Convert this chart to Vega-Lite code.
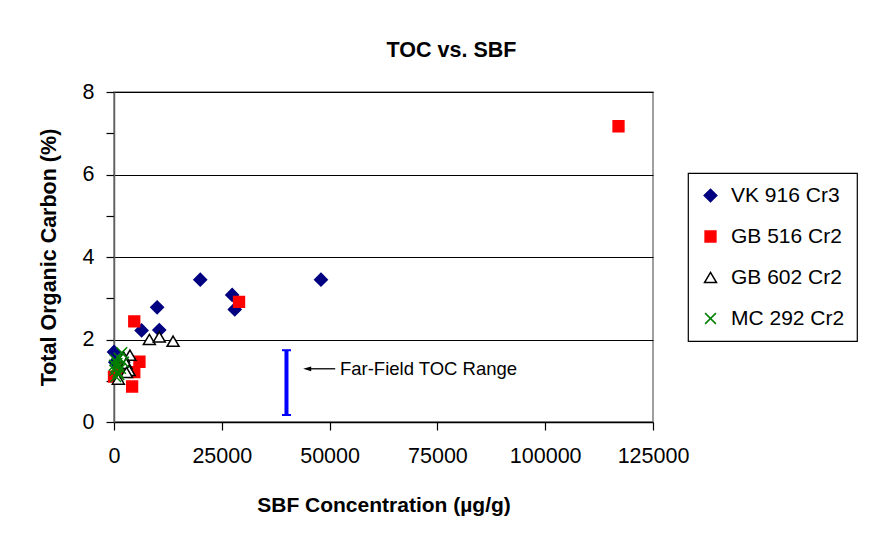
{
  "$schema": "https://vega.github.io/schema/vega-lite/v6.json",
  "width": 539,
  "height": 330,
  "autosize": {"type": "none"},
  "padding": {"left": 114, "top": 92, "right": 238, "bottom": 125},
  "background": "white",
  "title": {"text": "TOC vs. SBF", "fontSize": 21.5, "fontWeight": "bold", "font": "Liberation Sans", "color": "black", "anchor": "middle", "dx": 68, "baseline": "alphabetic", "offset": 3},
  "layer": [
    {
      "data": {"values": [
        {"series": "VK 916 Cr3", "sbf": 48000, "toc": 3.45},
        {"series": "VK 916 Cr3", "sbf": 20000, "toc": 3.45},
        {"series": "VK 916 Cr3", "sbf": 27400, "toc": 3.08},
        {"series": "VK 916 Cr3", "sbf": 28000, "toc": 2.73},
        {"series": "VK 916 Cr3", "sbf": 10000, "toc": 2.78},
        {"series": "VK 916 Cr3", "sbf": 6400, "toc": 2.22},
        {"series": "VK 916 Cr3", "sbf": 10500, "toc": 2.23},
        {"series": "VK 916 Cr3", "sbf": 0, "toc": 1.7},
        {"series": "VK 916 Cr3", "sbf": 300, "toc": 1.45},
        {"series": "GB 516 Cr2", "sbf": 117000, "toc": 7.17},
        {"series": "GB 516 Cr2", "sbf": 29000, "toc": 2.91},
        {"series": "GB 516 Cr2", "sbf": 4700, "toc": 2.44},
        {"series": "GB 516 Cr2", "sbf": 5900, "toc": 1.46},
        {"series": "GB 516 Cr2", "sbf": 4700, "toc": 1.21},
        {"series": "GB 516 Cr2", "sbf": 4200, "toc": 0.86},
        {"series": "GB 516 Cr2", "sbf": 0, "toc": 1.1},
        {"series": "GB 516 Cr2", "sbf": 1500, "toc": 1.3},
        {"series": "GB 602 Cr2", "sbf": 8200, "toc": 2.0},
        {"series": "GB 602 Cr2", "sbf": 10500, "toc": 2.06},
        {"series": "GB 602 Cr2", "sbf": 13700, "toc": 1.96},
        {"series": "GB 602 Cr2", "sbf": 3700, "toc": 1.62},
        {"series": "GB 602 Cr2", "sbf": 2200, "toc": 1.58},
        {"series": "GB 602 Cr2", "sbf": 2800, "toc": 1.42},
        {"series": "GB 602 Cr2", "sbf": 3500, "toc": 1.25},
        {"series": "GB 602 Cr2", "sbf": 1000, "toc": 1.04},
        {"series": "GB 602 Cr2", "sbf": 2900, "toc": 1.2},
        {"series": "MC 292 Cr2", "sbf": 1800, "toc": 1.68},
        {"series": "MC 292 Cr2", "sbf": 1200, "toc": 1.55},
        {"series": "MC 292 Cr2", "sbf": 300, "toc": 1.5},
        {"series": "MC 292 Cr2", "sbf": 600, "toc": 1.35},
        {"series": "MC 292 Cr2", "sbf": 200, "toc": 1.25},
        {"series": "MC 292 Cr2", "sbf": 900, "toc": 1.2},
        {"series": "MC 292 Cr2", "sbf": 1500, "toc": 1.3},
        {"series": "MC 292 Cr2", "sbf": 400, "toc": 1.1},
        {"series": "MC 292 Cr2", "sbf": 2200, "toc": 1.45},
        {"series": "MC 292 Cr2", "sbf": 700, "toc": 1.42},
        {"series": "MC 292 Cr2", "sbf": 100, "toc": 1.38},
        {"series": "MC 292 Cr2", "sbf": 1100, "toc": 1.15}
      ]},
      "mark": {"type": "point", "filled": true, "opacity": 1, "strokeWidth": 1.5, "size": 144, "clip": false},
      "encoding": {
        "x": {
          "field": "sbf", "type": "quantitative",
          "scale": {"domain": [0, 125000], "nice": false, "zero": false},
          "axis": {
            "title": "SBF Concentration (µg/g)",
            "values": [0, 25000, 50000, 75000, 100000, 125000],
            "format": "d",
            "grid": false,
            "domainColor": "black",
            "domainWidth": 1.5,
            "tickSize": 8,
            "tickWidth": 1.2,
            "labelFontSize": 21.5,
            "labelPadding": 15,
            "labelFlush": false,
            "labelOverlap": false,
            "titleFontSize": 21,
            "titleFontWeight": "bold",
            "titlePadding": 28
          }
        },
        "y": {
          "field": "toc", "type": "quantitative",
          "scale": {"domain": [0, 8], "nice": false, "zero": false},
          "axis": {
            "title": "Total Organic Carbon (%)",
            "values": [0, 1, 2, 3, 4, 5, 6, 7, 8],
            "labelExpr": "datum.value % 2 === 0 ? datum.label : ''",
            "grid": true,
            "gridColor": "black",
            "gridWidth": 1.2,
            "gridOpacity": {"condition": {"test": "datum.value % 2 === 0 && datum.value > 0", "value": 1}, "value": 0},
            "domainColor": "#606060",
            "domainWidth": 1.5,
            "tickSize": 8,
            "tickWidth": 1.2,
            "labelFontSize": 21.5,
            "labelPadding": 12,
            "labelFlush": false,
            "titleFontSize": 21.5,
            "titleFontWeight": "bold",
            "titlePadding": 22
          }
        },
        "shape": {
          "field": "series", "type": "nominal",
          "scale": {"domain": ["VK 916 Cr3", "GB 516 Cr2", "GB 602 Cr2", "MC 292 Cr2"], "range": ["M0,-1.05L1.05,0L0,1.05L-1.05,0Z", "M-0.9,-0.9L0.9,-0.9L0.9,0.9L-0.9,0.9Z", "M0,-0.85L1,0.85L-1,0.85Z", "M-0.9,-0.9L0.9,0.9M-0.9,0.9L0.9,-0.9"]},
          "legend": {"title": null}
        },
        "fill": {
          "field": "series", "type": "nominal",
          "scale": {"domain": ["VK 916 Cr3", "GB 516 Cr2", "GB 602 Cr2", "MC 292 Cr2"], "range": ["#000080", "#FF0000", "#FFFFFF", "transparent"]},
          "legend": {"title": null}
        },
        "stroke": {
          "field": "series", "type": "nominal",
          "scale": {"domain": ["VK 916 Cr3", "GB 516 Cr2", "GB 602 Cr2", "MC 292 Cr2"], "range": ["#000080", "#FF0000", "#000000", "#008000"]},
          "legend": {"title": null}
        }
      }
    },
    {
      "data": {"values": [{"sbf": 40000, "lo": 0.17, "hi": 1.74}]},
      "mark": {"type": "rule", "color": "#0000FF", "strokeWidth": 4},
      "encoding": {
        "x": {"field": "sbf", "type": "quantitative"},
        "y": {"field": "lo", "type": "quantitative"},
        "y2": {"field": "hi"}
      }
    },
    {
      "data": {"values": [{"sbf": 40000, "toc": 0.17}, {"sbf": 40000, "toc": 1.74}]},
      "mark": {"type": "tick", "orient": "horizontal", "color": "#0000FF", "size": 9, "thickness": 2, "opacity": 1},
      "encoding": {
        "x": {"field": "sbf", "type": "quantitative"},
        "y": {"field": "toc", "type": "quantitative"}
      }
    },
    {
      "data": {"values": [{"x1": 45000, "x2": 51300, "toc": 1.29}]},
      "mark": {"type": "rule", "color": "black", "strokeWidth": 1.3},
      "encoding": {
        "x": {"field": "x1", "type": "quantitative"},
        "x2": {"field": "x2"},
        "y": {"field": "toc", "type": "quantitative"}
      }
    },
    {
      "data": {"values": [{"sbf": 44800, "toc": 1.29}]},
      "mark": {"type": "point", "shape": "M-1,0L1,-0.6L1,0.6Z", "filled": true, "color": "black", "opacity": 1, "size": 64},
      "encoding": {
        "x": {"field": "sbf", "type": "quantitative"},
        "y": {"field": "toc", "type": "quantitative"}
      }
    },
    {
      "data": {"values": [{"sbf": 52400, "toc": 1.29, "label": "Far-Field TOC Range"}]},
      "mark": {"type": "text", "align": "left", "baseline": "middle", "fontSize": 18.5, "font": "Liberation Sans", "color": "black"},
      "encoding": {
        "x": {"field": "sbf", "type": "quantitative"},
        "y": {"field": "toc", "type": "quantitative"},
        "text": {"field": "label"}
      }
    }
  ],
  "config": {
    "font": "Liberation Sans",
    "view": {"stroke": "#808080", "strokeWidth": 1.5},
    "axis": {"labelFont": "Liberation Sans", "titleFont": "Liberation Sans", "labelColor": "black", "titleColor": "black", "tickColor": "black"},
    "legend": {
      "orient": "none",
      "legendX": 574,
      "legendY": 81,
      "strokeColor": "black",
      "strokeWidth": 1.2,
      "padding": 12,
      "rowPadding": 19,
      "labelOffset": 10,
      "labelFontSize": 21,
      "labelFont": "Liberation Sans",
      "labelColor": "black",
      "symbolSize": 144,
      "symbolStrokeWidth": 1.5,
      "symbolOpacity": 1
    }
  }
}
